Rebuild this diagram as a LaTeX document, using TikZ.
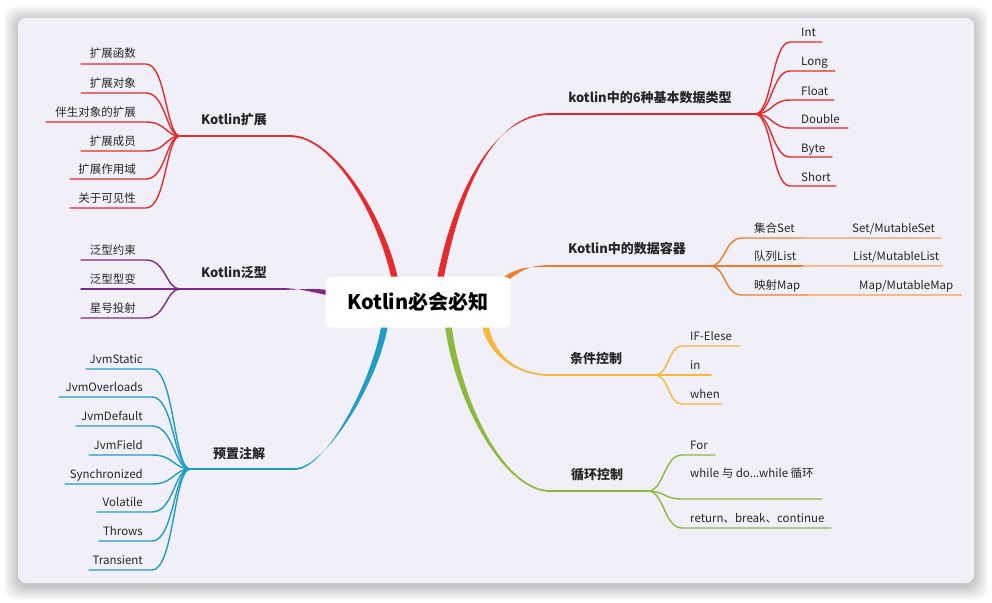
\documentclass[tikz,border=0pt]{standalone}
\usepackage{fontspec}
\setmainfont{Noto Sans CJK SC}
\usepackage{tikz}
\usetikzlibrary{calc}
\definecolor{mapred}{HTML}{E52B2E}
\definecolor{maporange}{HTML}{EE7E2F}
\definecolor{mapamber}{HTML}{F6B83A}
\definecolor{mapgreen}{HTML}{8BBA3F}
\definecolor{mappurple}{HTML}{7D2C86}
\definecolor{mapblue}{HTML}{219CC4}
\definecolor{panelbg}{HTML}{F1F0F8}
\definecolor{inkdark}{HTML}{262626}
\pgfdeclarelayer{background}
\pgfdeclarelayer{twigs}
\pgfsetlayers{background,twigs,main}
% tapered branch: colour, from, to, control offset at from, control offset at to, half width at from
\newcommand{\taper}[6]{%
  \fill[#1] ($(#2)+(#6)$) .. controls ($(#2)+(#4)+(#6)$) and ($(#3)+(#5)+(0,-0.9)$) .. ($(#3)+(0,-0.9)$)
    -- ($(#3)+(0,0.9)$) .. controls ($(#3)+(#5)+(0,0.9)$) and ($(#2)+(#4)-(#6)$) .. ($(#2)-(#6)$) -- cycle;}

\begin{document}
\begin{tikzpicture}[x=1pt, y=-1pt,
    root/.style={rectangle, rounded corners=6pt, fill=white, minimum width=185pt,
                 minimum height=51pt, text=black, font=\fontsize{20}{24}\selectfont\bfseries},
    topic/.style={inner sep=0pt, anchor=base, text=inkdark, font=\fontsize{13}{15}\selectfont\bfseries},
    leafL/.style={inner sep=0pt, anchor=base east, text=inkdark, font=\fontsize{11.5}{13}\selectfont},
    leafR/.style={inner sep=0pt, anchor=base west, text=inkdark, font=\fontsize{11.5}{13}\selectfont},
    twig/.style={line width=1.4pt, line cap=round},
    stem/.style={line width=1.8pt},
]
\useasboundingbox (0,0) rectangle (992,602);

% Panel
\begin{pgfonlayer}{background}
\fill[white] (0,0) rectangle (992,602);
\foreach \s in {1,...,14}
    \fill[black, opacity=0.016, rounded corners=12pt] (18-\s,20-\s) rectangle (974+\s,586+\s);
\fill[panelbg, rounded corners=8pt] (18,18) rectangle (974,583);
\end{pgfonlayer}

% Centre
\node[root] (root) at (418,302) {Kotlin必会必知};

% Topics
\coordinate (extfan) at (180,136);  \coordinate (extjoin) at (290,136);
\coordinate (genfan) at (180,289);  \coordinate (genjoin) at (283,289);
\coordinate (annfan) at (190,469);  \coordinate (annjoin) at (295,469);
\coordinate (typfan) at (755,114);  \coordinate (typjoin) at (550,114);
\coordinate (confan) at (710,266);  \coordinate (conjoin) at (550,266);
\coordinate (condfan) at (655,375); \coordinate (condjoin) at (550,375);
\coordinate (loopfan) at (648,491); \coordinate (loopjoin) at (550,491);

\node[topic] (ext) at (234,124) {Kotlin扩展};
\node[topic] (gen) at (234,277) {Kotlin泛型};
\node[topic] (ann) at (239,458) {预置注解};
\node[topic] (typ) at (650,102) {kotlin中的6种基本数据类型};
\node[topic] (con) at (627,253) {Kotlin中的数据容器};
\node[topic] (cond) at (596,363) {条件控制};
\node[topic] (loop) at (597,479) {循环控制};

\begin{pgfonlayer}{twigs}
% Branches from the centre
\coordinate (r-ext) at ($(root.north)+(-23,4)$);
\coordinate (r-typ) at ($(root.north)+(22,4)$);
\coordinate (r-con) at ($(root.east)+(-10,-20)$);
\coordinate (r-cond) at ($(root.south)+(67,-4)$);
\coordinate (r-loop) at ($(root.south)+(30,-4)$);
\coordinate (r-ann) at ($(root.south)+(-33,-4)$);
\coordinate (r-gen) at ($(root.west)+(4,-9)$);

\taper{mapred}{r-ext}{extjoin}{-12,-60}{45,0}{3.3,0}
\taper{mapred}{r-typ}{typjoin}{15,-80}{-60,0}{3.3,0}
\taper{maporange}{r-con}{conjoin}{20,-14}{-22,0}{1.9,1.9}
\taper{mapamber}{r-cond}{condjoin}{5,30}{-35,0}{3.3,0}
\taper{mapgreen}{r-loop}{loopjoin}{10,80}{-45,0}{3.3,0}
\taper{mapblue}{r-ann}{annjoin}{-10,60}{30,0}{3.3,0}
\taper{mappurple}{r-gen}{genjoin}{-15,-3}{15,0}{0,2.6}

\draw[stem, mapred] (extjoin) -- (extfan);
\draw[stem, mappurple] (genjoin) -- (genfan);
\draw[stem, mapblue] (annjoin) -- (annfan);
\draw[stem, mapred] (typjoin) -- (typfan);
\draw[stem, maporange] (conjoin) -- (confan);
\draw[stem, mapamber] (condjoin) -- (condfan);
\draw[stem, mapgreen] (loopjoin) -- (loopfan);
\end{pgfonlayer}

% Kotlin扩展
\foreach \t/\y/\x [count=\i] in {扩展函数/64/81, 扩展对象/93/81, 伴生对象的扩展/122/46,
        扩展成员/151/81, 扩展作用域/179/70, 关于可见性/208/70} {
    \node[leafL] (ext\i) at (136,\y-6) {\t};
    \draw[twig, mapred] (\x,\y) -- (146,\y) .. controls (166,\y) and (166,136) .. (extfan);
}

% Kotlin泛型
\foreach \t/\y [count=\i] in {泛型约束/260, 泛型型变/289, 星号投射/318} {
    \node[leafL] (gen\i) at (136,\y-6) {\t};
    \draw[twig, mappurple] (81,\y) -- (146,\y) .. controls (166,\y) and (166,289) .. (genfan);
}

% 预置注解
\foreach \t/\y/\x [count=\i] in {JvmStatic/369/86, JvmOverloads/397/59, JvmDefault/426/76,
        JvmField/455/89, Synchronized/484/65, Volatile/512/97, Throws/541/99, Transient/570/89} {
    \node[leafL] (ann\i) at (143,\y-6) {\t};
    \draw[twig, mapblue] (\x,\y) -- (152,\y) .. controls (174,\y) and (174,469) .. (annfan);
}

% 基本数据类型
\foreach \t/\y/\e [count=\i] in {Int/42/822, Long/71/835, Float/100/834,
        Double/128/848, Byte/157/832, Short/186/836} {
    \node[leafR] (typ\i) at (801,\y-5) {\t};
    \draw[twig, mapred] (typfan) .. controls (772,114) and (772,\y) .. (790,\y) -- (\e,\y);
}

% 数据容器
\node[leafR] (con1) at (754,232) {集合Set};
\node[leafR] (con2) at (754,260) {队列List};
\node[leafR] (con3) at (754,289) {映射Map};
\node[leafR] (con1a) at (852,232) {Set/MutableSet};
\node[leafR] (con2a) at (853,260) {List/MutableList};
\node[leafR] (con3a) at (859,289) {Map/MutableMap};
\foreach \y/\s/\e in {238/803/941, 266/803/943, 295/808/962} {
    \draw[twig, maporange] (confan) .. controls (726,266) and (724,\y) .. (742,\y) -- (\s,\y);
    \draw[line width=1.1pt, maporange!55] (\s,\y) -- (\e,\y);
}

% 条件控制
\foreach \t/\y/\e [count=\i] in {IF-Elese/346/740, in/375/711, when/404/722} {
    \node[leafR] (cond\i) at (690,\y-6) {\t};
    \draw[twig, mapamber] (condfan) .. controls (669,375) and (668,\y) .. (682,\y) -- (\e,\y);
}

% 循环控制
\node[leafR] (loop1) at (690,449) {For};
\node[leafR] (loop2) at (690,477) {while 与 do...while 循环};
\node[leafR] (loop3) at (690,522) {return、break、continue};
\foreach \y/\e in {455/715, 499/822, 528/831}
    \draw[twig, mapgreen] (loopfan) .. controls (664,491) and (664,\y) .. (682,\y) -- (\e,\y);
\end{tikzpicture}
\end{document}
